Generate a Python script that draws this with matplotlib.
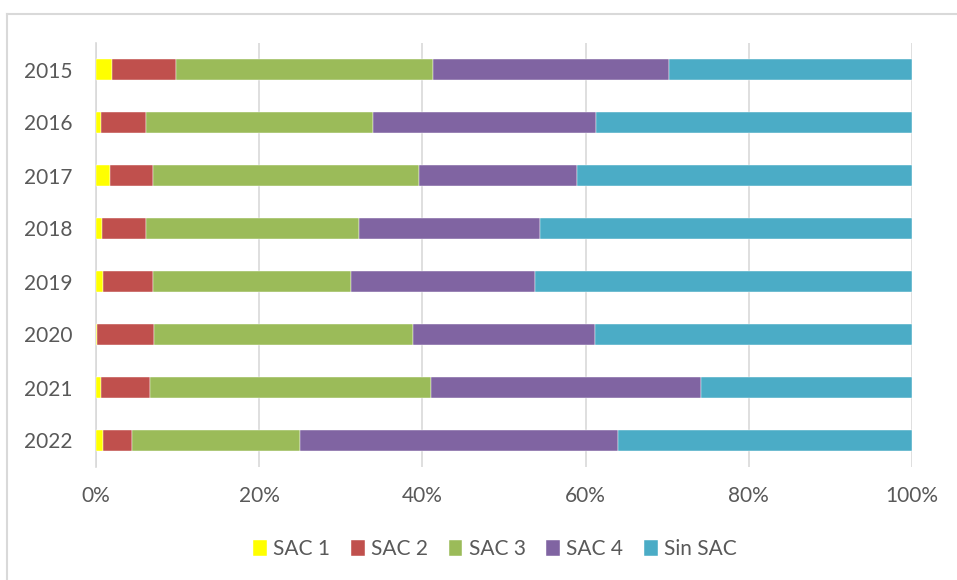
import matplotlib.pyplot as plt
import numpy as np
from matplotlib.lines import Line2D

plt.rcParams['font.family'] = ['Lato', 'DejaVu Sans']

years = ["2015", "2016", "2017", "2018", "2019", "2020", "2021", "2022"]
series = ["SAC 1", "SAC 2", "SAC 3", "SAC 4", "Sin SAC"]
colors = ["#ffff00", "#c0504d", "#9bbb59", "#8064a2", "#4bacc6"]

sac1 = [1.9, 0.6, 1.7, 0.7, 0.9, 0.1, 0.6, 0.9]
sac2 = [7.9, 5.5, 5.3, 5.4, 6.1, 7.0, 6.0, 3.5]
sac3 = [31.4, 27.8, 32.6, 26.1, 24.2, 31.8, 34.5, 20.6]
sac4 = [28.9, 27.4, 19.4, 22.2, 22.6, 22.2, 33.1, 39.0]
sin_sac = [29.8, 38.7, 41.0, 45.6, 46.2, 38.9, 25.8, 36.0]

data = np.array([sac1, sac2, sac3, sac4, sin_sac], dtype=float)
# 100% stacked: each year is shown as share of its total
shares = data / data.sum(axis=0)

fig = plt.figure(figsize=(9.57, 5.80), dpi=100)
ax = fig.add_axes([96 / 957, 1 - 467 / 580, 816 / 957, 424 / 580])

y = np.arange(len(years))
left = np.zeros(len(years))
for vals, name, color in zip(shares, series, colors):
    ax.barh(y, vals, left=left, height=0.4, color=color, label=name,
            edgecolor="white", linewidth=0.3, zorder=3)
    left += vals

ax.set_xlim(0, 1)
ax.set_ylim(len(years) - 0.5, -0.5)
ax.set_yticks(y)
ax.set_yticklabels(years)
ax.set_xticks(np.linspace(0, 1, 6))
ax.set_xticklabels([f"{int(v * 100)}%" for v in np.linspace(0, 1, 6)])
ax.grid(axis="x", color="#d9d9d9", linewidth=1.2, zorder=0)
ax.tick_params(length=0, labelsize=15, labelcolor="#595959")
ax.tick_params(axis="x", pad=14)
ax.tick_params(axis="y", pad=17)
for side in ["top", "right", "bottom"]:
    ax.spines[side].set_visible(False)
ax.spines["left"].set_color("#d9d9d9")
ax.spines["left"].set_linewidth(1.2)

leg = fig.legend(loc="center", bbox_to_anchor=(495 / 957, 1 - 549 / 580), ncol=5,
                 frameon=False, fontsize=15, handlelength=0.65, handleheight=0.8,
                 handletextpad=0.3, columnspacing=1.0)
for t in leg.get_texts():
    t.set_color("#595959")

# chart border (partly outside the image)
fig.add_artist(Line2D([7.5 / 957, 1.0], [1 - 14 / 580, 1 - 14 / 580],
                      transform=fig.transFigure, color="#d9d9d9", linewidth=1.5))
fig.add_artist(Line2D([7.5 / 957, 7.5 / 957], [0.0, 1 - 14 / 580],
                      transform=fig.transFigure, color="#d9d9d9", linewidth=1.5))

fig.savefig("out.png", dpi=100)
